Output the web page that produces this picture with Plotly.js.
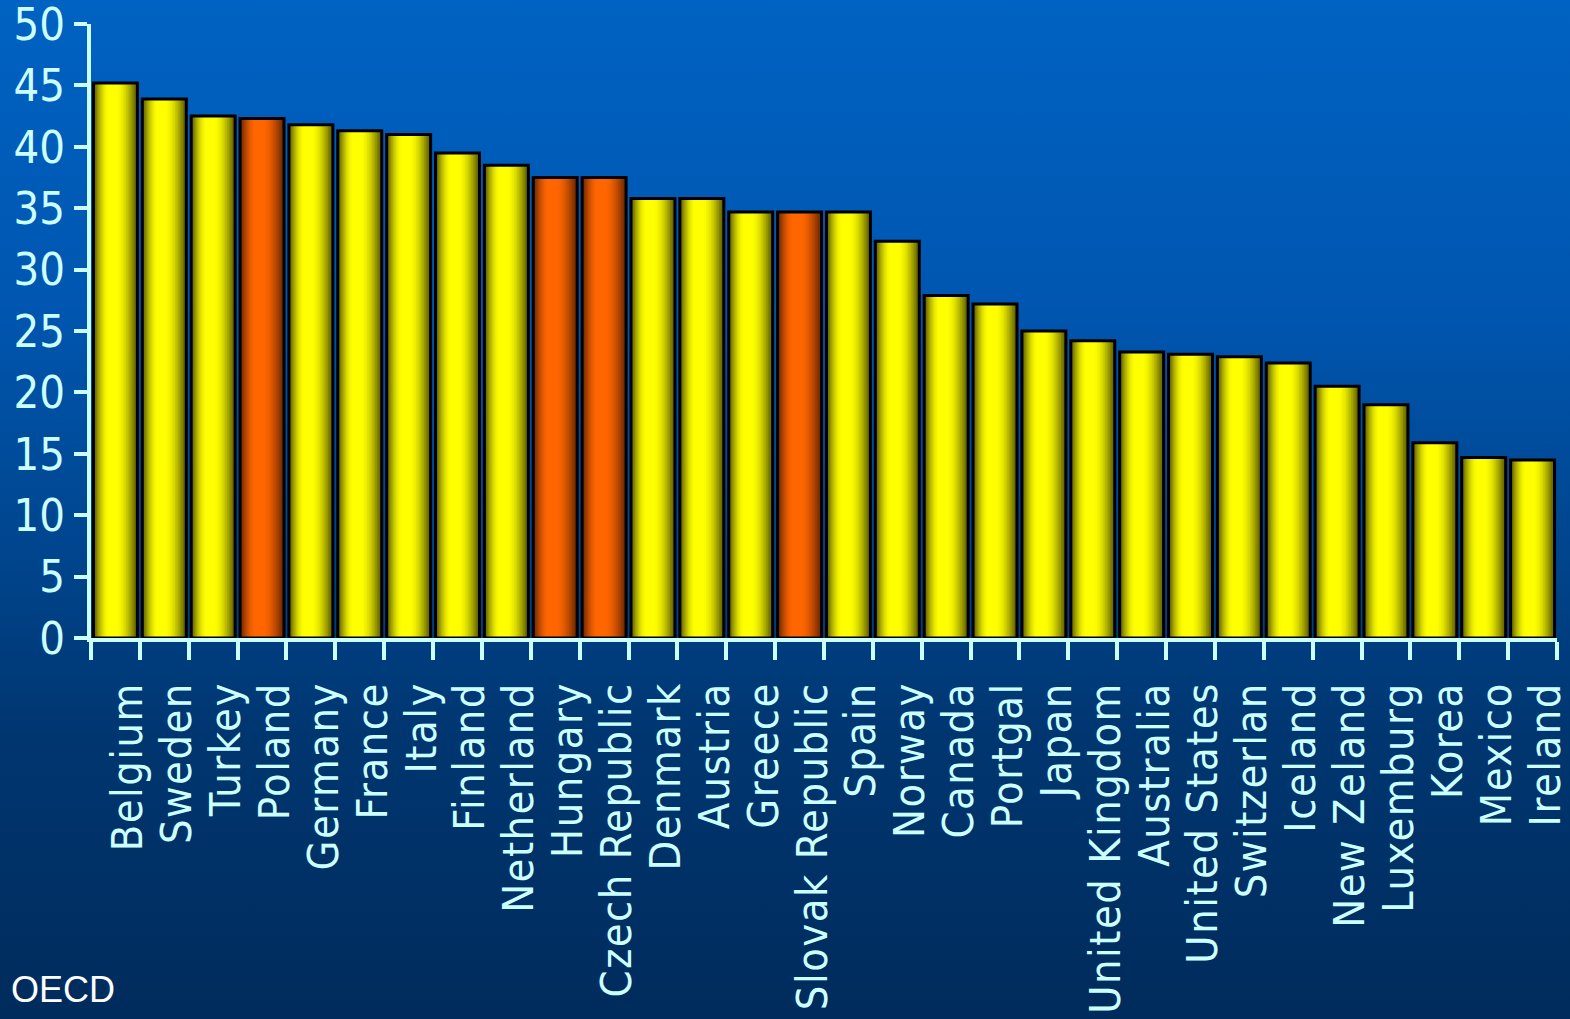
<!DOCTYPE html>
<html>
<head>
<meta charset="utf-8">
<script src="https://cdn.plot.ly/plotly-3.0.1.min.js"></script>
<style>
  html, body { margin: 0; padding: 0; width: 1570px; height: 1019px; overflow: hidden; }
  body { background: linear-gradient(to bottom, #0062c2 0%, #0056b0 30%, #00448c 55%, #003670 72%, #002b5c 100%); }
  #chart { width: 1570px; height: 1019px; }
  .xtick text { letter-spacing: 1.5px; }
</style>
</head>
<body>
<div id="chart"></div>
<script>
const countries = ["Belgium","Sweden","Turkey","Poland","Germany","France","Italy","Finland","Netherland","Hungary","Czech Republic","Denmark","Austria","Greece","Slovak Republic","Spain","Norway","Canada","Portgal","Japan","United Kingdom","Australia","United States","Switzerlan","Iceland","New Zeland","Luxemburg","Korea","Mexico","Ireland"];
const values = [45.2, 43.9, 42.5, 42.3, 41.8, 41.3, 41.0, 39.5, 38.5, 37.5, 37.5, 35.8, 35.8, 34.7, 34.7, 34.7, 32.3, 27.9, 27.2, 25.0, 24.2, 23.3, 23.1, 22.9, 22.4, 20.5, 19.0, 15.9, 14.7, 14.5];
const highlighted = ["Poland","Hungary","Czech Republic","Slovak Republic"];
const yTicks = [0, 5, 10, 15, 20, 25, 30, 35, 40, 45, 50];
const sourceNote = "OECD";

const narrow = "'Liberation Sans Narrow', 'DejaVu Sans Condensed', 'Roboto Condensed', 'Liberation Sans', sans-serif";
const axisColor = "#ccffff";

function mix(a, b, t) {
  const r = Math.round(a[0] + (b[0] - a[0]) * t);
  const g = Math.round(a[1] + (b[1] - a[1]) * t);
  const bl = Math.round(a[2] + (b[2] - a[2]) * t);
  return "rgb(" + r + "," + g + "," + bl + ")";
}
const yellowDark = [90, 90, 0], yellowBright = [255, 255, 0];
const orangeDark = [105, 38, 0], orangeBright = [255, 102, 0];

const barW = 0.9, left0 = -barW / 2, right0 = barW / 2;
const center = -0.06, halfBand = 0.08;
const N = 14;
const traces = [];
for (let k = 0; k < N; k++) {
  const t = k / (N - 1);
  const l = left0 + t * (center - halfBand - left0);
  const r = right0 - t * (right0 - (center + halfBand));
  const e = Math.sin(t * Math.PI / 2);
  const cols = countries.map(c => highlighted.includes(c) ? mix(orangeDark, orangeBright, e) : mix(yellowDark, yellowBright, e));
  traces.push({
    type: "bar", x: countries, y: values,
    width: r - l, offset: l,
    marker: { color: cols, line: { width: 0 } },
    hoverinfo: "skip", showlegend: false
  });
}
traces.push({
  type: "bar", x: countries, y: values,
  width: barW, offset: left0,
  marker: { color: "rgba(0,0,0,0)", line: { width: 3, color: "#000000" } },
  hoverinfo: "skip", showlegend: false
});

const layout = {
  width: 1570, height: 1019,
  paper_bgcolor: "rgba(0,0,0,0)", plot_bgcolor: "rgba(0,0,0,0)",
  margin: { l: 91, r: 13, t: 24, b: 381 },
  barmode: "overlay",
  showlegend: false,
  xaxis: {
    type: "category", range: [-0.5, countries.length - 0.5],
    tickmode: "linear", tick0: 0, dtick: 1,
    tickson: "boundaries", ticks: "outside", ticklen: 18, tickwidth: 4, tickcolor: axisColor,
    showline: true, linewidth: 4, linecolor: axisColor, showgrid: false, zeroline: false,
    tickangle: -90, tickfont: { family: narrow, size: 43, color: axisColor },
    ticklabelstandoff: 23, ticklabelshift: 13, ticklabeloverflow: "allow", fixedrange: true
  },
  yaxis: {
    range: [0, 50], tickmode: "array", tickvals: yTicks, ticktext: yTicks.map(String),
    ticks: "outside", ticklen: 13, tickwidth: 4, tickcolor: axisColor,
    showline: true, linewidth: 4, linecolor: axisColor, showgrid: false, zeroline: false,
    tickfont: { family: narrow, size: 45, color: axisColor },
    ticklabelstandoff: 0, ticklabeloverflow: "allow", fixedrange: true
  },
  annotations: [{
    text: sourceNote, xref: "paper", yref: "paper", x: -0.056, y: -0.572,
    xanchor: "left", yanchor: "middle", showarrow: false,
    font: { family: "'Liberation Sans', Arial, sans-serif", size: 36, color: "#ffffff" }
  }]
};

Plotly.newPlot("chart", traces, layout, { staticPlot: true, displayModeBar: false });
</script>
</body>
</html>
